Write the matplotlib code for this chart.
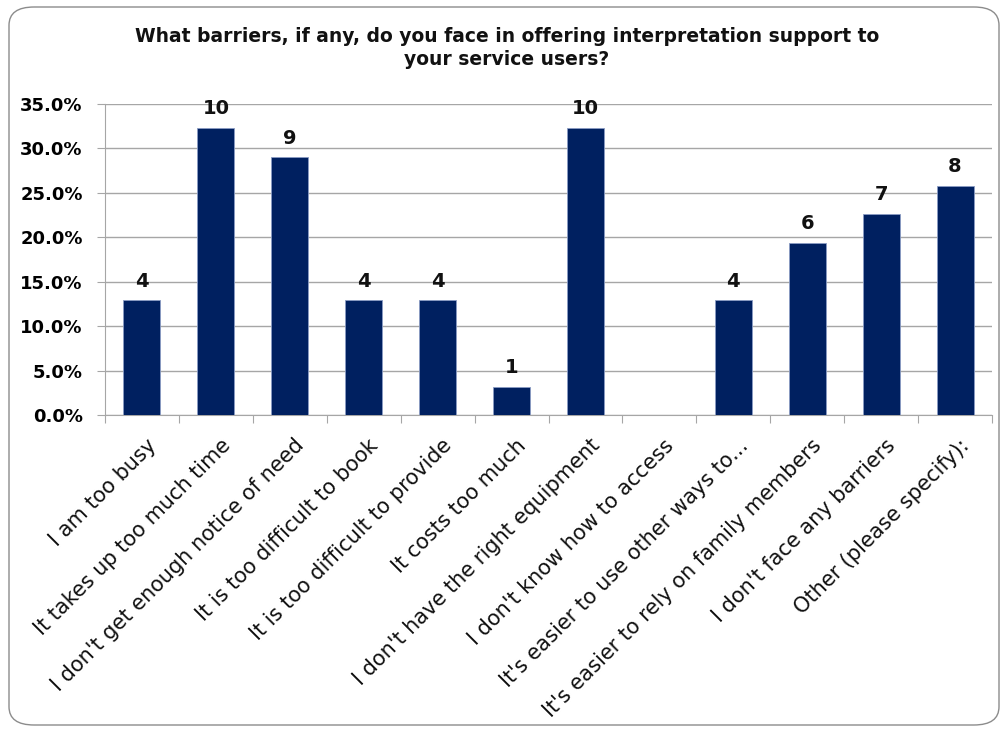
import matplotlib.pyplot as plt
from matplotlib.patches import FancyBboxPatch
from matplotlib.ticker import FuncFormatter, MultipleLocator
import numpy as np

categories = [
    "I am too busy",
    "It takes up too much time",
    "I don't get enough notice of need",
    "It is too difficult to book",
    "It is too difficult to provide",
    "It costs too much",
    "I don't have the right equipment",
    "I don't know how to access",
    "It's easier to use other ways to...",
    "It's easier to rely on family members",
    "I don't face any barriers",
    "Other (please specify):",
]
percent = [12.9, 32.3, 29.0, 12.9, 12.9, 3.2, 32.3, 0.0, 12.9, 19.4, 22.6, 25.8]
counts = ["4", "10", "9", "4", "4", "1", "10", "", "4", "6", "7", "8"]

bar_color = "#002060"

fig = plt.figure(figsize=(10.04, 7.29), dpi=100)
ax = fig.add_axes([105 / 1004, 1 - 415 / 729, (992 - 105) / 1004, (415 - 104) / 729])

# rounded chart frame
frame = FancyBboxPatch((9 / 1004, 4 / 729), 990 / 1004, 718 / 729,
                       boxstyle="round,pad=0,rounding_size=0.025",
                       transform=fig.transFigure, facecolor="none",
                       edgecolor="#8c8c8c", linewidth=1.0, zorder=0)
fig.patches.append(frame)

x = np.arange(len(categories))
ax.bar(x, percent, width=0.5, color=bar_color, edgecolor="#8a9cc4",
       linewidth=0.6, zorder=3)
for xi, p, c in zip(x, percent, counts):
    if c:
        ax.annotate(c, (xi, p), xytext=(0, 7), textcoords="offset points",
                    ha="center", va="bottom", fontsize=14,
                    fontweight="bold", color="#111111")

ax.set_xlim(-0.5, len(categories) - 0.5)
ax.set_ylim(0, 35)
ax.yaxis.set_major_locator(MultipleLocator(5))
ax.yaxis.set_major_formatter(FuncFormatter(lambda v, pos: f"{v:.1f}%"))
ax.grid(axis="y", color="#a6a6a6", linewidth=1.0, zorder=0)
ax.set_axisbelow(True)

for s in ["top", "right"]:
    ax.spines[s].set_visible(False)
ax.spines["left"].set_color("#a6a6a6")
ax.spines["bottom"].set_color("#a6a6a6")

ax.tick_params(axis="y", length=6, color="#a6a6a6", labelsize=13, pad=10)
for lbl in ax.get_yticklabels():
    lbl.set_fontweight("bold")

# category boundary ticks
ax.set_xticks(np.arange(-0.5, len(categories)))
ax.set_xticklabels([])
ax.tick_params(axis="x", length=6, color="#a6a6a6")
for xi, cat in zip(x, categories):
    ax.text(xi + 0.06, -2.3, cat, rotation=45, ha="right", va="top",
            rotation_mode="anchor", fontsize=15, color="#111111")

fig.text(0.505, 0.963, "What barriers, if any, do you face in offering interpretation support to\nyour service users?",
         ha="center", va="top", fontsize=13.5, fontweight="bold", color="#111111",
         linespacing=1.25)

fig.savefig("out.png", dpi=100)
